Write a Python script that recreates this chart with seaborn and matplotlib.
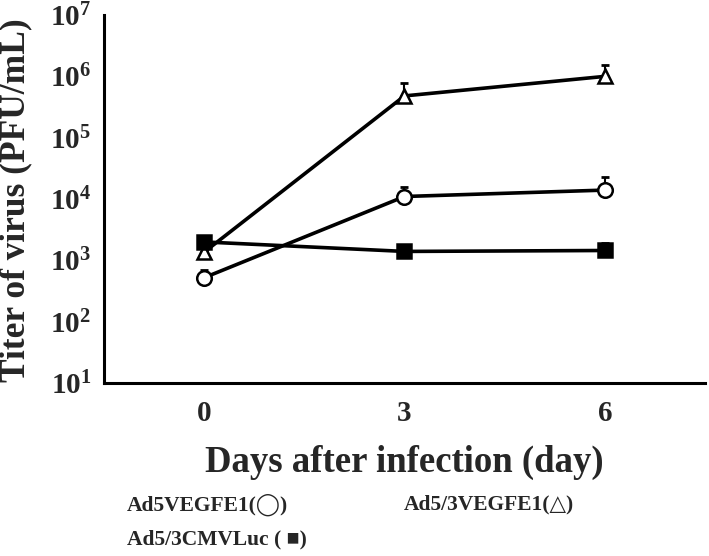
import numpy as np
import pandas as pd
import matplotlib
matplotlib.use("Agg")
import matplotlib.pyplot as plt
import seaborn as sns

# days after infection (categorical positions on the x axis)
days = ["0", "3", "6"]

# virus titer (PFU/mL)
ad5vegfe1 = [520, 11000, 14000]
ad5_3vegfe1 = [1350, 480000, 1000000]
ad5_3cmvluc = [2000, 1400, 1450]

# upper error bars (only the upper half is drawn)
ad5vegfe1_err = [180, 5000, 9000]
ad5_3vegfe1_err = [0, 300000, 550000]
ad5_3cmvluc_err = [0, 0, 500]

series = ["Ad5VEGFE1", "Ad5/3VEGFE1", "Ad5/3CMVLuc"]
legend_labels = ["Ad5VEGFE1(◯)", "Ad5/3VEGFE1(△)", "Ad5/3CMVLuc ( ■)"]

sns.set_style("white")
plt.rcParams["font.family"] = ["Liberation Serif", "DejaVu Sans"]
plt.rcParams["font.weight"] = "bold"
plt.rcParams["mathtext.fontset"] = "custom"
plt.rcParams["mathtext.rm"] = "Liberation Serif:bold"
plt.rcParams["mathtext.bf"] = "Liberation Serif:bold"

df = pd.DataFrame({
    "day": days * 3,
    "titer": ad5vegfe1 + ad5_3vegfe1 + ad5_3cmvluc,
    "err": ad5vegfe1_err + ad5_3vegfe1_err + ad5_3cmvluc_err,
    "virus": np.repeat(series, 3),
})

fig = plt.figure(figsize=(7.09, 5.56), dpi=100)
ax = fig.add_axes([0.146, 0.311, 0.849, 0.662])

styles = {
    "Ad5VEGFE1": dict(marker="o", mfc="white"),
    "Ad5/3VEGFE1": dict(marker="^", mfc="white"),
    "Ad5/3CMVLuc": dict(marker="s", mfc="black"),
}

for i, name in enumerate(series):
    sub = df[df["virus"] == name]
    pos = np.arange(len(sub))
    ax.errorbar(pos, sub["titer"], yerr=[np.zeros(len(sub)), sub["err"]],
                fmt="none", ecolor="black", elinewidth=1.5, capsize=3,
                capthick=2, zorder=2 + i)
    sns.lineplot(data=sub, x="day", y="titer", ax=ax, color="black",
                 linewidth=2.6, markersize=10.5, mec="black", mew=1.8,
                 zorder=3 + i, **styles[name])

ax.set_yscale("log")
ax.set_ylim(10, 1e7)
ax.set_xlim(-0.5, 2.5)
ax.set_yticks([10 ** k for k in range(1, 8)])
ax.set_yticklabels([r"$\mathbf{10^{%d}}$" % k for k in range(1, 8)])
ax.minorticks_off()
ax.set_xticks(range(len(days)))
ax.set_xticklabels(days)

for s in ["top", "right"]:
    ax.spines[s].set_visible(False)
for s in ["left", "bottom"]:
    ax.spines[s].set_linewidth(2.2)
    ax.spines[s].set_color("black")

ax.tick_params(axis="y", direction="in", length=3, width=2, labelsize=21, pad=9)
ax.tick_params(axis="x", length=0, labelsize=21, pad=12)
for lab in ax.get_xticklabels():
    lab.set_fontweight("bold")

ax.set_xlabel("Days after infection (day)", fontsize=26.5, fontweight="bold", labelpad=13)
ax.set_ylabel("Titer of virus (PFU/mL)", fontsize=25.5, fontweight="bold")
ax.yaxis.set_label_coords(0.046, 0.64, transform=fig.transFigure)

# legend rows: text labels with inline symbols
fam = ["Liberation Serif", "DejaVu Sans"]
fig.text(0.179, 0.092, legend_labels[0], fontsize=15.5, fontweight="bold",
         va="center", family=fam)
fig.text(0.569, 0.092, legend_labels[1], fontsize=15.5, fontweight="bold",
         va="center", family=fam)
fig.text(0.179, 0.029, legend_labels[2], fontsize=15.5, fontweight="bold",
         va="center", family=fam)

fig.savefig("out.png", dpi=100)
